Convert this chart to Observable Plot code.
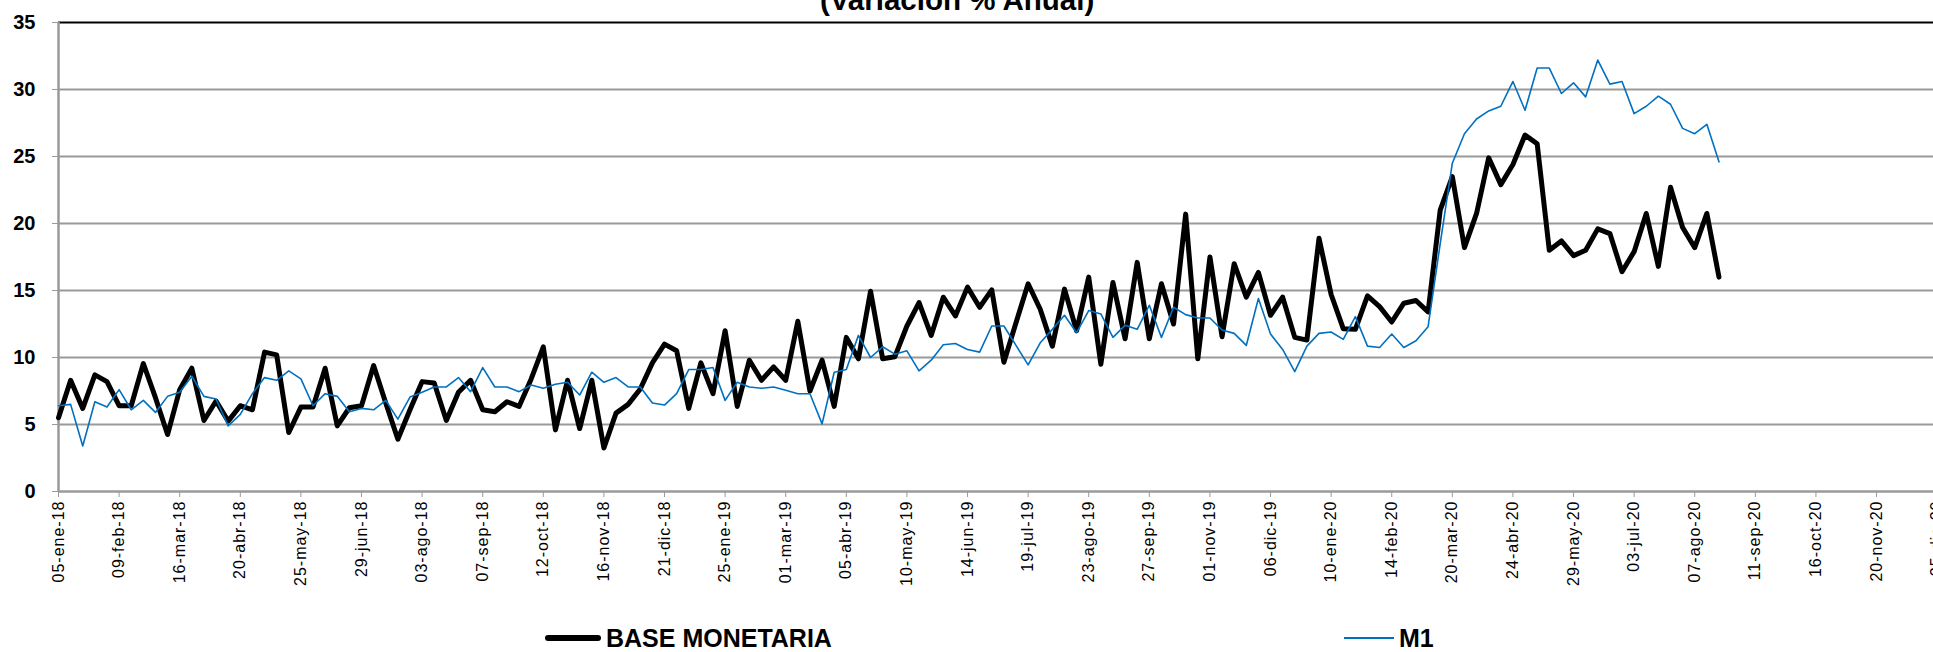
<!DOCTYPE html>
<html>
<head>
<meta charset="utf-8">
<script src="https://cdn.jsdelivr.net/npm/d3@7"></script>
<script src="https://cdn.jsdelivr.net/npm/@observablehq/plot@0.6"></script>
<style>
  html, body { margin: 0; padding: 0; background: #fff; overflow: hidden; }
  #wrap { position: relative; width: 1933px; height: 652px; overflow: hidden; font-family: "Liberation Sans", Arial, sans-serif; }
  #title { position: absolute; left: 820px; top: -15px; font-size: 29.5px; font-weight: bold; line-height: 1; white-space: nowrap; color: #000; }
  #chart { position: absolute; left: 0; top: 0; width: 2000px; }
  #chart svg { max-width: none !important; display: block; }
  .xt text { letter-spacing: 1px; }
  .leg { position: absolute; top: 624px; height: 28px; display: flex; align-items: center; font-size: 25px; font-weight: bold; color: #000; white-space: nowrap; }
  .leg .sw { display: inline-block; margin-right: 5px; }
</style>
</head>
<body>
<div id="wrap">
  <div id="chart"></div>
  <div id="title">(Variación % Anual)</div>
  <div class="leg" style="left:545px"><span class="sw" style="width:56px;height:6px;border-radius:3px;background:#000"></span>BASE MONETARIA</div>
  <div class="leg" style="left:1344px"><span class="sw" style="width:50px;height:2px;background:#0070C0"></span>M1</div>
</div>
<script>
// Weekly categories start (one point per week)
const startDate = "2018-01-05";

// Tick labels, one every 5 weeks
const tickLabels = ["05-ene-18","09-feb-18","16-mar-18","20-abr-18","25-may-18","29-jun-18","03-ago-18","07-sep-18","12-oct-18","16-nov-18","21-dic-18","25-ene-19","01-mar-19","05-abr-19","10-may-19","14-jun-19","19-jul-19","23-ago-19","27-sep-19","01-nov-19","06-dic-19","10-ene-20","14-feb-20","20-mar-20","24-abr-20","29-may-20","03-jul-20","07-ago-20","11-sep-20","16-oct-20","20-nov-20","25-dic-20"];

// BASE MONETARIA (% annual change), weekly from 05-ene-18
const baseMonetaria = [
  5.5, 8.3, 6.2, 8.7, 8.2, 6.4, 6.4, 9.55, 7.0, 4.25,
  7.6, 9.2, 5.3, 6.75, 5.25, 6.4, 6.1, 10.4, 10.2, 4.4,
  6.3, 6.3, 9.2, 4.9, 6.25, 6.4, 9.4, 6.6, 3.9, 6.1,
  8.2, 8.1, 5.3, 7.4, 8.3, 6.1, 5.95, 6.7, 6.35, 8.4,
  10.8, 4.6, 8.3, 4.7, 8.3, 3.25, 5.85, 6.5, 7.65, 9.6,
  11.0, 10.5, 6.2, 9.6, 7.3, 12.0, 6.35, 9.8, 8.3, 9.3,
  8.3, 12.7, 7.5, 9.8, 6.35, 11.5, 9.9, 14.95, 9.9, 10.05,
  12.35, 14.1, 11.65, 14.5, 13.1, 15.25, 13.75, 15.05, 9.65, 12.6,
  15.5, 13.6, 10.85, 15.1, 12.0, 16.0, 9.5, 15.6, 11.4, 17.1,
  11.4, 15.5, 12.5, 20.7, 9.9, 17.5, 11.55, 17.0, 14.5, 16.35,
  13.15, 14.5, 11.5, 11.3, 18.9, 14.7, 12.15, 12.1, 14.6, 13.8,
  12.65, 14.05, 14.25, 13.4, 21.0, 23.5, 18.2, 20.75, 24.9, 22.9,
  24.4, 26.6, 25.95, 18.0, 18.7, 17.6, 18.0, 19.6, 19.25, 16.4,
  17.9, 20.75, 16.8, 22.7, 19.7, 18.2, 20.75, 16.0
];

// M1 (% annual change), weekly from 05-ene-18
const m1 = [
  6.4, 6.5, 3.4, 6.7, 6.3, 7.6, 6.1, 6.8, 5.9, 7.1,
  7.4, 8.6, 7.1, 6.9, 4.9, 5.75, 7.3, 8.5, 8.3, 9.0,
  8.4, 6.4, 7.3, 7.1, 5.95, 6.2, 6.1, 6.8, 5.4, 7.05,
  7.4, 7.8, 7.8, 8.5, 7.45, 9.25, 7.8, 7.8, 7.45, 7.95,
  7.7, 8.0, 8.15, 7.2, 8.9, 8.15, 8.5, 7.8, 7.8, 6.6,
  6.45, 7.3, 9.1, 9.1, 9.25, 6.8, 8.15, 7.8, 7.7, 7.8,
  7.55, 7.3, 7.3, 5.05, 8.9, 9.1, 11.65, 10.0, 10.8, 10.25,
  10.5, 9.0, 9.8, 10.95, 11.05, 10.6, 10.4, 12.35, 12.35, 10.9,
  9.45, 11.1, 12.1, 13.15, 11.85, 13.5, 13.25, 11.5, 12.4, 12.1,
  13.9, 11.5, 13.75, 13.2, 12.95, 12.95, 12.05, 11.8, 10.9, 14.4,
  11.75, 10.6, 8.95, 10.85, 11.8, 11.9, 11.35, 13.05, 10.85, 10.75,
  11.75, 10.75, 11.25, 12.3, 18.5, 24.5, 26.7, 27.8, 28.4, 28.75,
  30.6, 28.45, 31.6, 31.6, 29.7, 30.5, 29.45, 32.2, 30.4, 30.6,
  28.2, 28.75, 29.5, 28.9, 27.1, 26.7, 27.4, 24.6
];

const yTicks = [0, 5, 10, 15, 20, 25, 30, 35];

const DAY = 864e5, WEEK = 7 * DAY;
const t0 = Date.parse(startDate + "T00:00:00Z");
const weekDate = (i) => new Date(t0 + i * WEEK);

const rows = baseMonetaria.map((v, i) => ({date: weekDate(i), value: v, serie: "BASE MONETARIA"}));
const rowsM1 = m1.map((v, i) => ({date: weekDate(i), value: v, serie: "M1"}));

const xTicks = tickLabels.map((_, k) => weekDate(k * 5));
const fmtX = (d) => tickLabels[Math.round((d - t0) / WEEK / 5)];

const lastWeek = 158;
const pxPerWeek = 12.12;
const mLeft = 58;
const width = Math.round(mLeft + lastWeek * pxPerWeek);

const chart = Plot.plot({
  width,
  height: 600,
  marginLeft: mLeft,
  marginRight: 0,
  marginTop: 22,
  marginBottom: 109,
  style: {fontFamily: "'Liberation Sans', Arial, sans-serif", color: "#000", background: "transparent", overflow: "visible", maxWidth: "none"},
  x: {type: "utc", domain: [weekDate(0), weekDate(lastWeek)]},
  y: {domain: [0, 35]},
  marks: [
    Plot.ruleY(yTicks.filter(d => d > 0 && d < 35), {stroke: "#9a9a9a", strokeWidth: 2}),
    Plot.ruleY([35], {stroke: "#000", strokeWidth: 2}),
    Plot.ruleY([0], {stroke: "#9a9a9a", strokeWidth: 2.5}),
    Plot.ruleX([weekDate(0)], {stroke: "#9a9a9a", strokeWidth: 2.5}),
    Plot.axisY({ticks: yTicks, tickSize: 6, tickPadding: 17, fontSize: 20, fontWeight: "bold", stroke: "#9a9a9a", fill: "#000", label: null}),
    Plot.axisX({ticks: xTicks, tickFormat: fmtX, tickSize: 6, tickPadding: 3, tickRotate: -90, fontSize: 16, stroke: "#9a9a9a", fill: "#000", label: null, className: "xt"}),
    Plot.lineY(rows, {x: "date", y: "value", stroke: "#000", strokeWidth: 5, strokeLinejoin: "round", strokeLinecap: "round"}),
    Plot.lineY(rowsM1, {x: "date", y: "value", stroke: "#0070C0", strokeWidth: 1.6, strokeLinejoin: "round"})
  ]
});
document.getElementById("chart").appendChild(chart);
</script>
</body>
</html>
